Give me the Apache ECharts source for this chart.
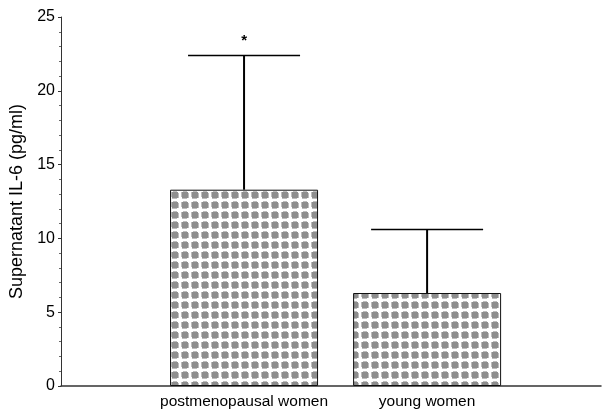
<!DOCTYPE html>
<html><head><meta charset="utf-8">
<script src="https://cdn.jsdelivr.net/npm/echarts@6/dist/echarts.min.js"></script>
<style>html,body{margin:0;padding:0;background:#fff}#c{width:605px;height:414px}</style>
</head><body><div id="c"></div>
<script>
const categories = ['postmenopausal women', 'young women'];
const means = [13.3, 6.3];
const upperErr = [22.4, 10.6];
const marks = ['*', ''];
const yTicks = [0, 5, 10, 15, 20, 25];

// dotted fill pattern
const pc = document.createElement('canvas');
pc.width = 10; pc.height = 10;
const g = pc.getContext('2d');
g.fillStyle = '#fff'; g.fillRect(0, 0, 10, 10);
g.fillStyle = '#8e8e8e'; g.fillRect(2, 2, 6, 6);
g.fillStyle = '#bdbdbd'; g.fillRect(1, 2, 1, 5); g.fillRect(8, 3, 1, 5); g.fillRect(3, 1, 4, 1); g.fillRect(2, 8, 5, 1);

const barData = categories.map((c, i) => [i + 1, means[i]]);
const errData = categories.map((c, i) => [i + 1, means[i], upperErr[i], marks[i]]);

const chart = echarts.init(document.getElementById('c'));
chart.setOption({
  animation: false,
  grid: { left: 61, right: 4, top: 17, bottom: 28 },
  xAxis: {
    type: 'value', min: 0, max: 2.95, interval: 1,
    splitLine: { show: false },
    axisLine: { show: true, lineStyle: { color: '#333', width: 1.5 } },
    axisTick: { show: false },
    axisLabel: {
      showMaxLabel: false,
      formatter: v => categories[v - 1] || '',
      fontFamily: 'Liberation Sans', fontSize: 15.5, color: '#000', margin: 8
    }
  },
  yAxis: {
    type: 'value', min: yTicks[0], max: yTicks[yTicks.length - 1], interval: 5,
    name: 'Supernatant IL-6 (pg/ml)', nameLocation: 'middle', nameGap: 35,
    nameTextStyle: { fontFamily: 'Liberation Sans', fontSize: 18, color: '#000' },
    splitLine: { show: false },
    axisLine: { show: true, lineStyle: { color: '#333', width: 1 } },
    axisTick: { show: true, length: 3, lineStyle: { color: '#333' } },
    minorTick: { show: true, splitNumber: 5, length: 2, lineStyle: { color: '#666' } },
    axisLabel: { fontFamily: 'Liberation Sans', fontSize: 16, color: '#000', margin: 6 }
  },
  series: [
    {
      type: 'bar', data: barData, barWidth: 148,
      itemStyle: { color: { image: pc, repeat: 'repeat' }, borderColor: '#111', borderWidth: 1 }
    },
    {
      type: 'custom', data: errData, z: 5,
      renderItem: (params, api) => {
        const x = api.value(0);
        const lo = api.coord([x, api.value(1)]);
        const hi = api.coord([x, api.value(2)]);
        const half = 56;
        const children = [
          { type: 'line', shape: { x1: lo[0], y1: lo[1], x2: hi[0], y2: hi[1] }, style: { stroke: '#000', lineWidth: 2 } },
          { type: 'line', shape: { x1: hi[0] - half, y1: hi[1], x2: hi[0] + half, y2: hi[1] }, style: { stroke: '#000', lineWidth: 1.5 } }
        ];
        const m = api.value(3);
        if (m) {
          children.push({ type: 'text', style: { text: m, x: hi[0], y: hi[1] - 7, align: 'center', verticalAlign: 'bottom', font: 'bold 15px Liberation Sans', fill: '#000' } });
        }
        return { type: 'group', children };
      }
    }
  ]
});
</script></body></html>
